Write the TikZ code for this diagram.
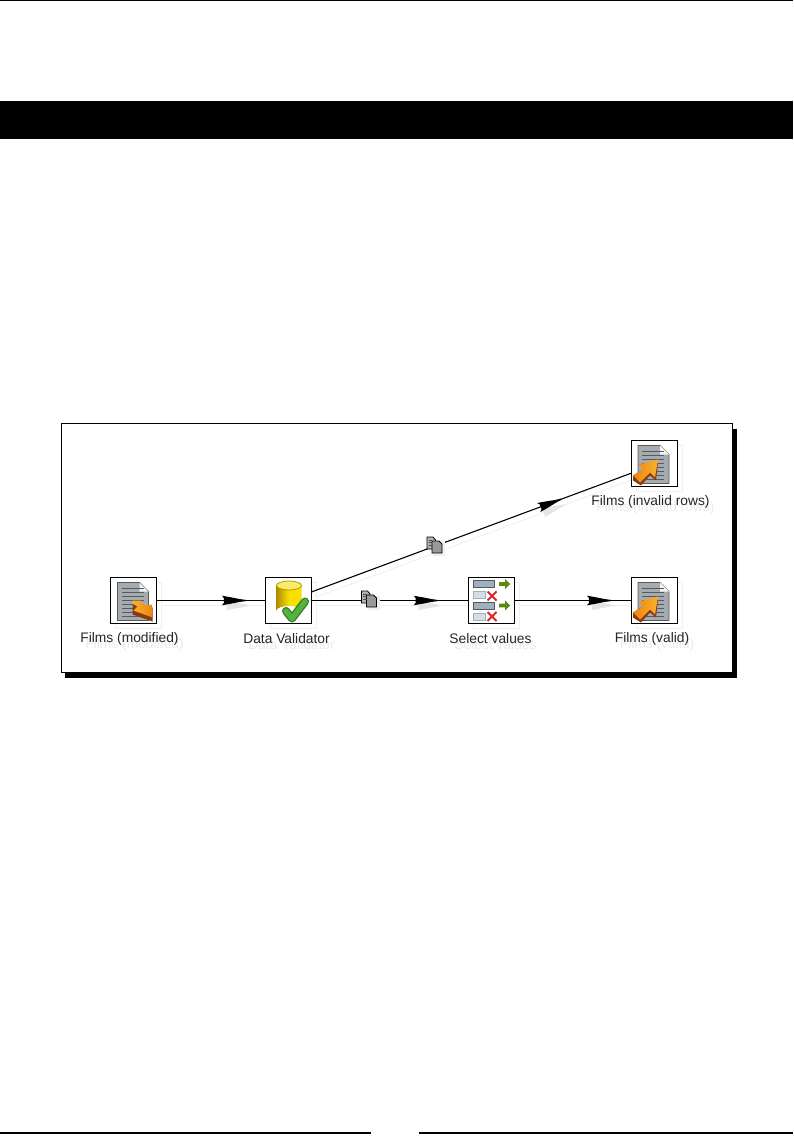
\documentclass[tikz,border=0pt]{standalone}
\usepackage{fontspec}
\setmainfont{Liberation Sans}
\usetikzlibrary{decorations.markings}
\definecolor{pagegrey}{HTML}{A6ABAF}
\definecolor{pagedark}{HTML}{55595D}
\definecolor{pageline}{HTML}{555B61}
\definecolor{orangeA}{HTML}{EE8410}
\definecolor{orangeC}{HTML}{FAB22C}
\definecolor{orangeB}{HTML}{8A3A10}
\definecolor{yellowA}{HTML}{F8E000}
\definecolor{yellowB}{HTML}{B08C00}
\definecolor{okgreen}{HTML}{55B23E}
\definecolor{okdark}{HTML}{2C7A2A}
\definecolor{arrowgreen}{HTML}{5B8A12}
\definecolor{barblue}{HTML}{9FB1BF}
\definecolor{barpale}{HTML}{D5DEE4}
\definecolor{crossred}{HTML}{D8262A}
\tikzset{
  x=1pt,y=-1pt,
  stepbox/.style={draw=black,line width=1pt,fill=white,minimum size=46pt,inner sep=0pt,outer sep=0pt},
  ghostbox/.style={draw=black!6,line width=0.8pt,fill=none,minimum size=46pt,inner sep=0pt},
  steplabel/.style={font=\fontsize{13.8}{15}\selectfont,text=black!85,inner sep=0pt},
  ghostlabel/.style={font=\fontsize{13.8}{15}\selectfont,text=black!8,inner sep=0pt},
  hop/.style={draw=black,line width=1.1pt},
  ghosthop/.style={draw=black!6,line width=0.9pt},
  flowhead/.style={postaction={decorate,decoration={markings,mark=at position #1 with {\fill[black] (-12,-4.8) -- (-10,-2.5) -- (-10,2.5) -- (-12,4.8) -- (-3,3.2) -- (6,1.4) -- (12,0.6) -- (12,-0.6) -- (6,-1.4) -- (-3,-3.2) -- cycle;}}}},
  ghosthead/.style={postaction={decorate,decoration={markings,mark=at position #1 with {\fill[black!10] (-12,-4.6) -- (12,0) -- (-12,4.6) -- cycle;}}}},
  barrule/.style={line width=1.1pt,draw=black},
}
\newcommand{\pagebody}{%
  \fill[pagegrey] (7,5) -- (29,5) -- (38,14) -- (38,43) -- (7,43) -- cycle;
  \draw[pagedark,line width=0.8pt] (7,5) -- (29,5) -- (38,14) -- (38,43) -- (7,43) -- cycle;
  \fill[white!85!pagegrey] (29,5) -- (38,14) -- (29,14) -- cycle;
  \foreach \yy in {11,15,19,23,27,31,35,39}{\draw[pageline,line width=0.9pt] (11,\yy) -- (33,\yy);}
}
\newcommand{\outarrow}{%
  \fill[orangeB] (27,22) -- (25,40) -- (19,35) -- (10,45) -- (2,40) -- (2,35) -- (12,29) -- cycle;
  \shade[left color=orangeA,right color=orangeC] (27,19) -- (8,24) -- (12,29) -- (2,35) -- (9,42) -- (19,32) -- (24,37) -- cycle;
}
\newcommand{\inarrow}{%
  \fill[orangeB] (22,27) -- (22,37) -- (42,44) -- (42,30) -- cycle;
  \shade[left color=orangeC,right color=orangeA] (22,23) -- (30,23) -- (34,28) -- (42,27) -- (42,40) -- (23,33) -- (27,29) -- (22,26) -- cycle;
}
\newcommand{\validicon}{%
  \shade[left color=yellowB,right color=yellowA,middle color=yellowA] (11.5,8) -- (11.5,33) arc[start angle=180,end angle=360,x radius=12.5,y radius=4.5] -- (36.5,8) -- cycle;
  \fill[yellowA!60!white] (24,8) ellipse[x radius=12.5,y radius=4.5];
  \draw[yellowB,line width=0.7pt] (24,8) ellipse[x radius=12.5,y radius=4.5];
  \draw[okdark,line width=8pt,line cap=round,line join=round] (21,33.5) -- (27,41) -- (40,24);
  \draw[okgreen,line width=5.5pt,line cap=round,line join=round] (21,33.5) -- (27,41) -- (40,24);
}
\newcommand{\bigbar}[1]{%
  \fill[barblue] (5,#1) rectangle (26,#1+7);
  \draw[pagedark,line width=0.6pt] (5,#1) rectangle (26,#1+7);
}
\newcommand{\smallbar}[1]{%
  \fill[barpale] (5,#1) rectangle (17,#1+7);
  \draw[barblue,line width=0.6pt] (5,#1) rectangle (17,#1+7);
}
\newcommand{\greenarrow}[1]{%
  \fill[arrowgreen] (31,#1-1.8) -- (37,#1-1.8) -- (37,#1-5) -- (42,#1) -- (37,#1+5) -- (37,#1+1.8) -- (31,#1+1.8) -- cycle;
}
\newcommand{\redcross}[1]{%
  \draw[crossred,line width=1.8pt] (19.5,#1-4.5) -- (28.5,#1+4.5) (28.5,#1-4.5) -- (19.5,#1+4.5);
}
\newcommand{\selecticon}{%
  \bigbar{3}\greenarrow{6.5}\smallbar{14}\redcross{18.5}
  \bigbar{25}\greenarrow{28}\smallbar{36}\redcross{39}
}
\newcommand{\hopmark}[2]{%
  \begin{scope}[shift={(#1,#2)}]
    \fill[black!6] (6,5) rectangle (18,19);
    \fill[black!30] (0,0) -- (6,0) -- (8.5,3) -- (8.5,12) -- (0,12) -- cycle;
    \draw[black,line width=0.8pt] (0,0) -- (6,0) -- (8.5,3) -- (8.5,12) -- (0,12) -- cycle;
    \fill[black!40] (5,4) -- (12,4) -- (15,7) -- (15,16) -- (5,16) -- cycle;
    \draw[black,line width=0.8pt] (5,4) -- (12,4) -- (15,7) -- (15,16) -- (5,16) -- cycle;
    \draw[black!70,line width=0.5pt] (1.5,3) -- (5,3) (1.5,5.5) -- (5,5.5) (1.5,8) -- (5,8);
  \end{scope}
}
\begin{document}
\begin{tikzpicture}
\useasboundingbox (0,0) rectangle (793,1142);
\fill[white] (0,0) rectangle (793,1142);
% page furniture
\draw[barrule] (0,0.5) -- (793,0.5);
\fill[black] (0,101) rectangle (793,139);
\draw[barrule] (0,1133) -- (371,1133);
\draw[barrule] (419,1133) -- (793,1133);
% frame with shadow
\fill[black] (65,429) rectangle (737,678);
\draw[black,line width=1pt,fill=white] (61,423.5) rectangle (732,672.5);
% ghost reflections
\node[ghostbox] (gmod) at (138.5,605.5) {};
\node[ghostbox] (gdv) at (293,605.5) {};
\node[ghostbox] (gsel) at (496,605.5) {};
\node[ghostbox] (gval) at (659,605.5) {};
\node[ghostbox] (ginv) at (659,468.5) {};
\draw[ghosthop,ghosthead=0.713] (gmod.east) -- (gdv.west);
\draw[ghosthop,ghosthead=0.73] (gdv.east) -- (gsel.west);
\draw[ghosthop,ghosthead=0.726] (gsel.east) -- (gval.west);
\draw[ghosthop,ghosthead=0.747] (gdv.20) -- (ginv.203);
\node[ghostlabel] (glmod) at (134.5,644.5) {Films (modified)};
\node[ghostlabel] (gldv) at (291.5,644.5) {Data Validator};
\node[ghostlabel] (glsel) at (495.5,644.5) {Select values};
\node[ghostlabel] (glval) at (657,644.5) {Films (valid)};
\node[ghostlabel] (glinv) at (655.5,507.5) {Films (invalid rows)};
% steps
\node[stepbox] (mod) at (133.5,600.5) {};
\node[stepbox] (dv) at (288,600.5) {};
\node[stepbox] (sel) at (491,600.5) {};
\node[stepbox] (val) at (654,600.5) {};
\node[stepbox] (inv) at (654,463.5) {};
\begin{scope}[shift={(mod.north west)}]\pagebody\inarrow\end{scope}
\begin{scope}[shift={(dv.north west)}]\validicon\end{scope}
\begin{scope}[shift={(sel.north west)}]\selecticon\end{scope}
\begin{scope}[shift={(val.north west)}]\pagebody\outarrow\end{scope}
\begin{scope}[shift={(inv.north west)}]\pagebody\outarrow\end{scope}
% labels
\node[steplabel] (lmod) at (129.5,638.5) {Films (modified)};
\node[steplabel] (ldv) at (286.5,638.5) {Data Validator};
\node[steplabel] (lsel) at (490.5,638.5) {Select values};
\node[steplabel] (lval) at (652,638.5) {Films (valid)};
\node[steplabel] (linv) at (650.5,501.5) {Films (invalid rows)};
% connectors
\draw[hop,flowhead=0.713] (mod.east) -- (dv.west);
\draw[hop,flowhead=0.73] (dv.east) -- (sel.west);
\draw[hop,flowhead=0.726] (sel.east) -- (val.west);
\draw[hop,flowhead=0.747] (dv.20) -- (inv.203);
\hopmark{361.5}{591}
\hopmark{427}{537}
\end{tikzpicture}
\end{document}
